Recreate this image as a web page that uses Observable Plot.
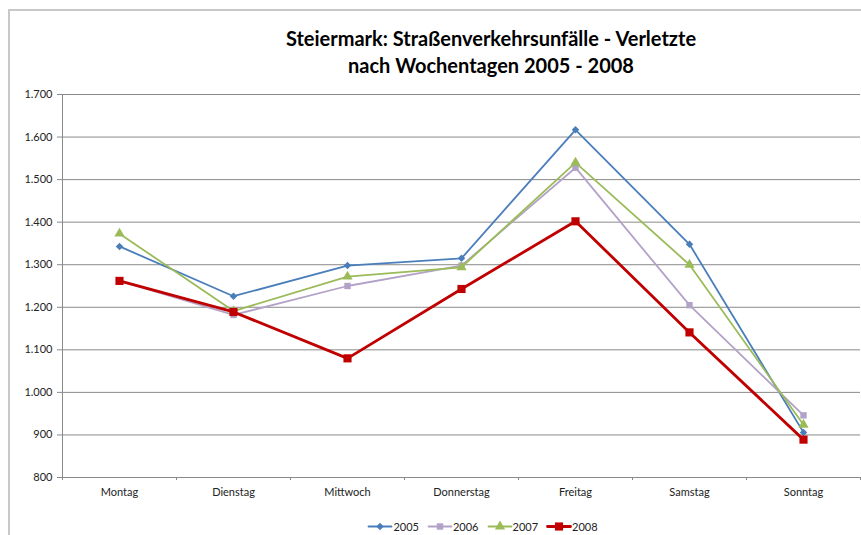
<!DOCTYPE html>
<html>
<head>
<meta charset="utf-8">
<script src="https://cdn.jsdelivr.net/npm/d3@7"></script>
<script src="https://cdn.jsdelivr.net/npm/@observablehq/plot@0.6"></script>
<style>
  html, body { margin: 0; padding: 0; background: #fff; }
  body { width: 861px; height: 535px; position: relative; overflow: hidden; font-family: Lato, "Open Sans", sans-serif; }
  #frame { position: absolute; left: 8px; top: 9px; width: 900px; height: 600px; border: 2px solid #c8c8c8; box-sizing: border-box; }
  #title { position: absolute; left: 0; top: 25px; width: 982px; text-align: center; font-weight: bold; font-size: 20px; line-height: 27px; color: #000; }
  #chart { position: absolute; left: 0; top: 85px; }
  #legend { position: absolute; top: 519px; left: 0; width: 966px; display: flex; justify-content: center; gap: 9px; font-size: 11px; color: #222; }
  .item { display: flex; align-items: center; gap: 2px; }
</style>
</head>
<body>
<div id="frame"></div>
<div id="title">Steiermark: Straßenverkehrsunfälle - Verletzte<br>nach Wochentagen 2005 - 2008</div>
<div id="chart"></div>
<div id="legend"></div>
<script>
const days = ["Montag", "Dienstag", "Mittwoch", "Donnerstag", "Freitag", "Samstag", "Sonntag"];
const years = ["2005", "2006", "2007", "2008"];
const v2005 = [1343, 1226, 1298, 1315, 1617, 1348, 906];
const v2006 = [1262, 1182, 1250, 1298, 1528, 1205, 946];
const v2007 = [1373, 1191, 1272, 1294, 1540, 1300, 924];
const v2008 = [1262, 1189, 1080, 1243, 1402, 1141, 889];
const yTicks = [800, 900, 1000, 1100, 1200, 1300, 1400, 1500, 1600, 1700];

const seriesValues = {"2005": v2005, "2006": v2006, "2007": v2007, "2008": v2008};
const colors = {"2005": "#4a7ebb", "2006": "#b3a2c7", "2007": "#9bbb59", "2008": "#c00000"};
const styles = {
  "2005": {symbol: "square", rotate: 45, r: 3, sw: 1.8},
  "2006": {symbol: "square", rotate: 0, r: 3.6, sw: 1.8},
  "2007": {symbol: "triangle", rotate: 0, r: 3.8, sw: 1.8},
  "2008": {symbol: "square", rotate: 0, r: 4.6, sw: 2.8}
};

const de = d3.formatLocale({decimal: ",", thousands: ".", grouping: [3], currency: ["", " €"]});
const fmt = de.format(",d");

const rows = years.map(y => days.map((d, i) => ({i, day: d, value: seriesValues[y][i], year: y})));

const marks = [
  Plot.gridY(yTicks, {stroke: "#8a8a8a", strokeOpacity: 1, strokeWidth: 1}),
  Plot.ruleX([-0.5], {stroke: "#8a8a8a", strokeWidth: 1}),
  Plot.axisY({ticks: yTicks, tickSize: 5, tickPadding: 5, tickFormat: fmt, stroke: "#8a8a8a", fill: "#222", fontSize: 11, label: null}),
  Plot.axisX({ticks: d3.range(-0.5, 7, 1), tickSize: 3, tickFormat: () => "", stroke: "#8a8a8a", label: null}),
  Plot.axisX({ticks: d3.range(0, 7), tickSize: 0, tickPadding: 11, tickFormat: i => days[i], fill: "#222", fontSize: 11, label: null})
];
years.forEach((y, k) => {
  const s = styles[y];
  marks.push(Plot.line(rows[k], {x: "i", y: "value", stroke: colors[y], strokeWidth: s.sw}));
  marks.push(Plot.dot(rows[k], {x: "i", y: "value", symbol: () => s.symbol, fill: colors[y], stroke: "none", r: s.r, rotate: s.rotate}));
});

const chart = Plot.plot({
  width: 861,
  height: 420,
  marginTop: 9,
  marginBottom: 28,
  marginLeft: 62,
  marginRight: 1,
  style: {fontFamily: "Lato, 'Open Sans', sans-serif", background: "transparent", overflow: "visible"},
  x: {type: "linear", domain: [-0.5, 6.5], axis: null},
  y: {domain: [800, 1700], axis: null},
  marks
});
document.getElementById("chart").appendChild(chart);

// legend
const legend = document.getElementById("legend");
years.forEach(y => {
  const s = styles[y];
  const item = document.createElement("div");
  item.className = "item";
  const sym = Plot.plot({
    width: 23, height: 14, margin: 0,
    x: {domain: [0, 2], axis: null}, y: {domain: [0, 1], axis: null},
    style: {background: "transparent", overflow: "visible"},
    marks: [
      Plot.line([{x: 0, y: 0.5}, {x: 2, y: 0.5}], {x: "x", y: "y", stroke: colors[y], strokeWidth: s.sw}),
      Plot.dot([{x: 1, y: 0.5}], {x: "x", y: "y", symbol: () => s.symbol, fill: colors[y], r: s.r, rotate: s.rotate})
    ]
  });
  item.appendChild(sym);
  const label = document.createElement("span");
  label.textContent = y;
  item.appendChild(label);
  legend.appendChild(item);
});
</script>
</body>
</html>
